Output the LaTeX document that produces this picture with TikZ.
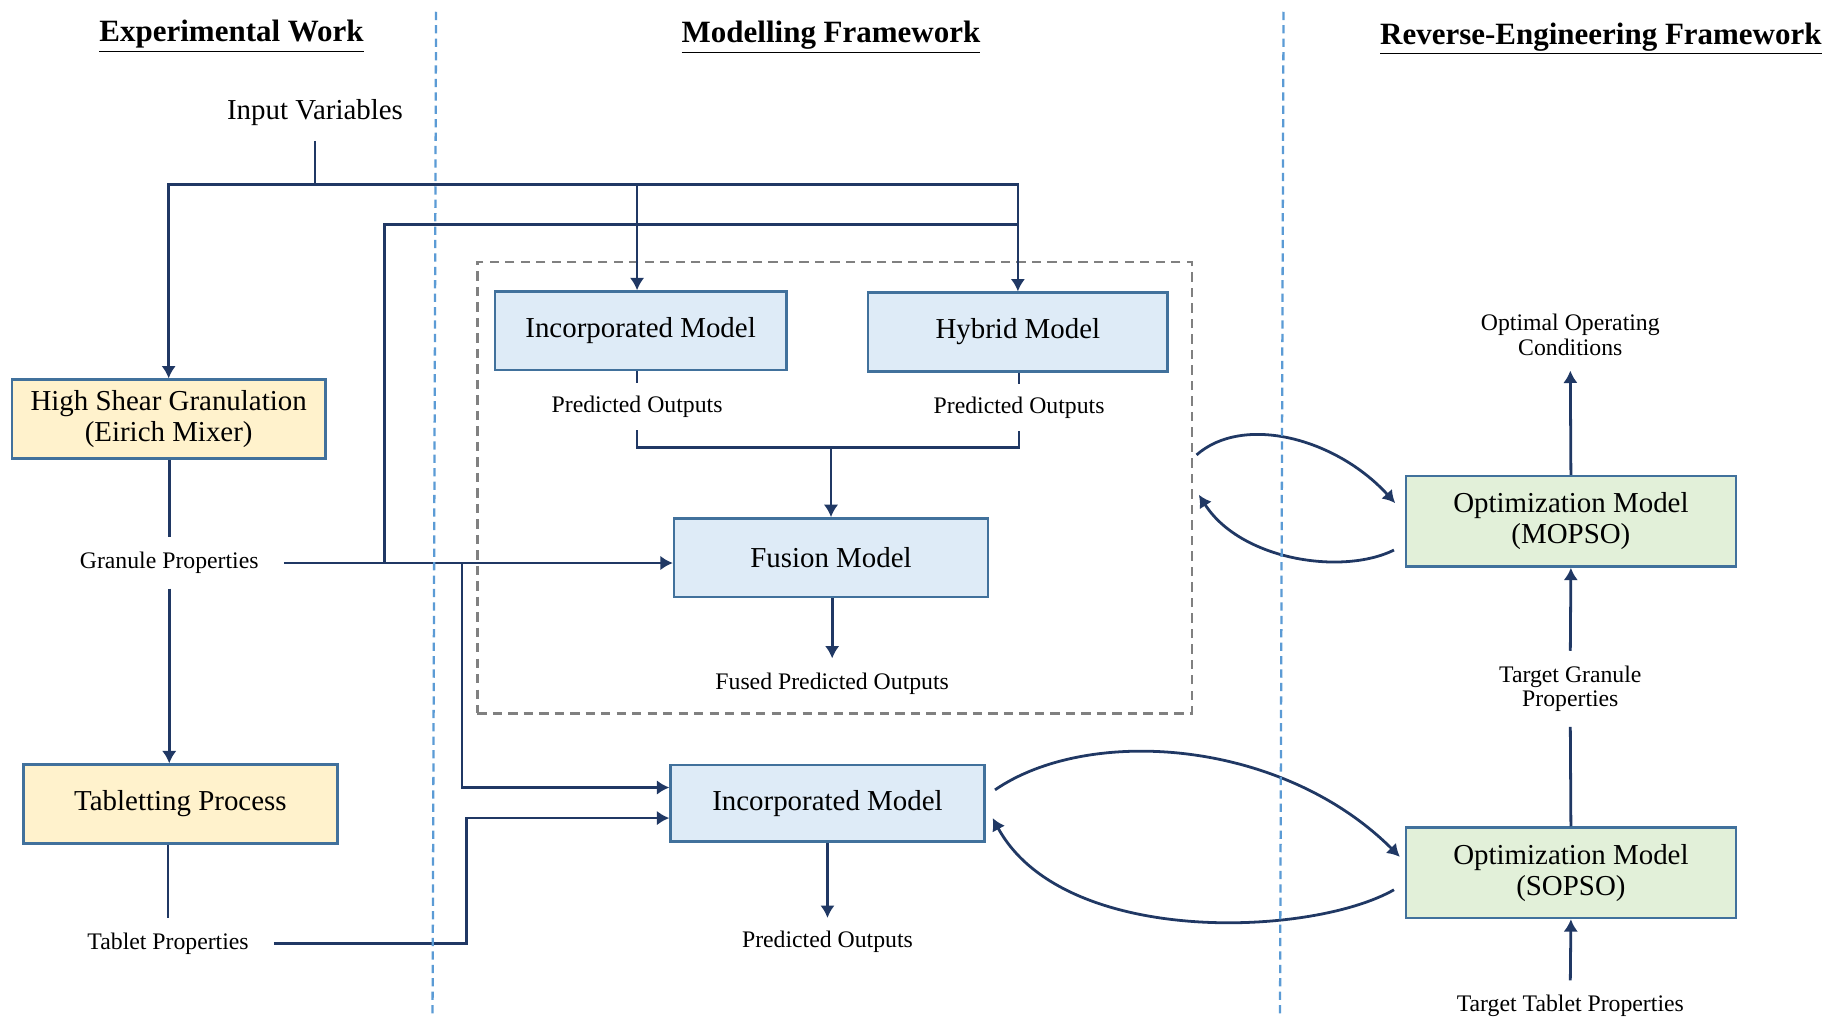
\documentclass[tikz,border=0pt]{standalone}
\usepackage{fontspec}
\setmainfont{Liberation Serif}
\usetikzlibrary{arrows.meta}
\definecolor{navy}{HTML}{203864}
\definecolor{borde}{HTML}{41719C}
\definecolor{celeste}{HTML}{DEEBF7}
\definecolor{crema}{HTML}{FFF2CC}
\definecolor{verde}{HTML}{E2F0D9}
\definecolor{divisor}{HTML}{5B9BD5}
\tikzstyle{caja}=[draw=borde, line width=1.2pt, align=center, inner sep=0pt,
  font=\fontsize{14}{15}\selectfont]
\tikzstyle{proceso} = [caja, fill=crema, minimum width=5.34cm, minimum height=1.34cm]
\tikzstyle{modelo} = [caja, fill=celeste, minimum width=5.34cm, minimum height=1.34cm]
\tikzstyle{optim} = [caja, fill=verde, minimum width=5.62cm, minimum height=1.54cm]
\tikzstyle{etiqueta} = [align=center, inner xsep=12pt, inner ysep=7pt,
  font=\fontsize{11.5}{12}\selectfont]
\tikzstyle{titulo} = [font=\fontsize{15}{17}\selectfont\bfseries]
\tikzstyle{wire} = [draw, line width=1.35pt, color=navy]
\tikzstyle{line} = [wire, -{Latex[length=6pt,width=7pt]}]
\tikzstyle{marco} = [draw=black!50, line width=1.2pt, dash pattern=on 4.5pt off 3pt]
\tikzstyle{frontera} = [draw=divisor, line width=1.1pt, dash pattern=on 4pt off 2.5pt]

\begin{document}
\begin{tikzpicture}[x=0.02cm, y=-0.02cm]
  \useasboundingbox (0,0) rectangle (1568,865);

  % column titles
  \node[titulo] (TEXP) at (197,31) {\underline{Experimental Work}};
  \node[titulo] (TMOD) at (707,32) {\underline{Modelling Framework}};
  \node[titulo] (TREV) at (1362,33) {\underline{Reverse-Engineering Framework}};

  % experimental work
  \node[etiqueta, font=\fontsize{14}{15}\selectfont] (INPUTVAR) at (268,96) {Input Variables};
  \node[proceso] (HSG) at (143.5,356.5) {High Shear Granulation\\(Eirich Mixer)};
  \node[etiqueta] (GRANPROP) at (144,479) {Granule Properties};
  \node[proceso] (TABLET) at (153.5,684) {Tabletting Process};
  \node[etiqueta] (TABPROP) at (143,803) {Tablet Properties};

  % modelling framework
  \node[marco, minimum width=12.16cm, minimum height=7.68cm] (FRAME) at (710,415) {};
  \node[modelo, minimum width=4.96cm] (INCORP) at (545,281.5) {Incorporated Model};
  \node[modelo, minimum width=5.1cm] (HYBRID) at (866,282.5) {Hybrid Model};
  \node[etiqueta, inner ysep=6pt] (PREDA) at (542,346) {Predicted Outputs};
  \node[etiqueta, inner ysep=6pt] (PREDB) at (867,347) {Predicted Outputs};
  \node[modelo] (FUSION) at (707,474.5) {Fusion Model};
  \node[etiqueta] (FUSED) at (708,582) {Fused Predicted Outputs};
  \node[modelo, minimum height=1.3cm] (INCORPB) at (704,683.5) {Incorporated Model};
  \node[etiqueta, inner ysep=6pt] (PREDC) at (704,801) {Predicted Outputs};

  % reverse-engineering framework
  \node[etiqueta] (OPTCOND) at (1336,285) {Optimal Operating\\Conditions};
  \node[optim] (MOPSO) at (1336.5,443.5) {Optimization Model\\(MOPSO)};
  \node[etiqueta] (TGRAN) at (1336,586) {Target Granule\\Properties};
  \node[optim] (SOPSO) at (1336.5,742.5) {Optimization Model\\(SOPSO)};
  \node[etiqueta] (TTAB) at (1336,856) {Target Tablet Properties};

  % junctions
  \coordinate (SPLIT) at (268,157);
  \coordinate (GUP) at (866,191);
  \coordinate (GJ1) at (327,479);
  \coordinate (GJ2) at (393,479);
  \coordinate (TJ) at (397,803);
  \coordinate (MERGE) at (707,381);

  % input variables
  \path [wire] (INPUTVAR.south) -- (SPLIT);
  \path [line] (SPLIT) -| (HSG.north);
  \path [line] (SPLIT) -| ([xshift=-0.06cm]INCORP.north);
  \path [line] (SPLIT) -| (HYBRID.north);

  % experimental chain
  \path [wire] (HSG.south -| GRANPROP.north) -- (GRANPROP.north);
  \path [line] (GRANPROP.south) -- (GRANPROP.south |- TABLET.north);
  \path [wire] (TABLET.south -| TABPROP.north) -- (TABPROP.north);

  % granule and tablet properties into the models
  \path [line] (GRANPROP.east) -- (GRANPROP.east -| FUSION.west);
  \path [wire] (GJ1) |- (GUP);
  \path [line] (GJ2) |- ([yshift=0.27cm]INCORPB.west);
  \path [line] (TABPROP.east) -- (TJ) |- ([yshift=-0.25cm]INCORPB.west);

  % model outputs
  \path [wire] (INCORP.south -| PREDA.north) -- (PREDA.north);
  \path [wire] (HYBRID.south -| PREDB.north) -- (PREDB.north);
  \path [wire] (PREDA.south) |- (MERGE);
  \path [wire] (PREDB.south) |- (MERGE);
  \path [line] (MERGE) -- (FUSION.north);
  \path [line] (FUSION.south -| FUSED.north) -- (FUSED.north);
  \path [line] (INCORPB.south) -- (PREDC.north);

  % optimisation loops
  \path [line] ([xshift=0.06cm,yshift=0.56cm]FRAME.east)
    .. controls +(40,-35) and +(-50,-55) .. ([xshift=-0.16cm,yshift=0.31cm]MOPSO.west);
  \path [line] ([xshift=-0.18cm,yshift=-0.49cm]MOPSO.west)
    .. controls +(-45,22) and +(35,55) .. ([xshift=0.1cm,yshift=-0.12cm]FRAME.east);
  \path [line] ([xshift=0.16cm,yshift=0.23cm]INCORPB.east)
    .. controls +(80,-55) and +(-100,-100) .. ([xshift=-0.08cm,yshift=0.27cm]SOPSO.west);
  \path [line] ([xshift=-0.18cm,yshift=-0.29cm]SOPSO.west)
    .. controls +(-70,40) and +(60,110) .. ([xshift=0.12cm,yshift=-0.25cm]INCORPB.east);

  % reverse-engineering chain
  \path [line] (MOPSO.north) -- (OPTCOND.south);
  \path [line] (TGRAN.north) -- (MOPSO.south);
  \path [wire] (SOPSO.north) -- (TGRAN.south);
  \path [line] (TTAB.north) -- (SOPSO.south);

  % column dividers
  \path [frontera] (371,10) -- (368,865);
  \path [frontera] (1092,10) -- (1089,865);
\end{tikzpicture}
\end{document}
